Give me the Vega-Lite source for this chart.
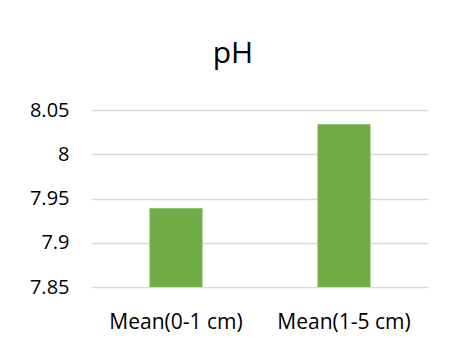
{
  "$schema": "https://vega.github.io/schema/vega-lite/v6.json",
  "width": 336,
  "height": 177,
  "autosize": {"type": "none"},
  "padding": {"left": 92, "top": 110, "right": 28, "bottom": 55},
  "background": "white",
  "title": {
    "text": "pH",
    "fontSize": 30,
    "font": "Open Sans",
    "fontWeight": "normal",
    "color": "#000000",
    "anchor": "middle",
    "dx": -27,
    "offset": 31
  },
  "data": {
    "values": [
      {"category": "Mean(0-1 cm)", "pH": 7.939},
      {"category": "Mean(1-5 cm)", "pH": 8.034}
    ]
  },
  "mark": {"type": "bar", "color": "#70AD47", "clip": true},
  "encoding": {
    "x": {
      "field": "category",
      "type": "nominal",
      "sort": null,
      "scale": {"paddingInner": 0.685, "paddingOuter": 0.3425},
      "axis": {
        "title": null,
        "labelAngle": 0,
        "domain": false,
        "ticks": false,
        "labelFont": "Open Sans",
        "labelFontSize": 21,
        "labelColor": "#000000",
        "labelPadding": 24
      }
    },
    "y": {
      "field": "pH",
      "type": "quantitative",
      "scale": {"domain": [7.85, 8.05], "zero": false, "nice": false},
      "axis": {
        "title": null,
        "values": [7.85, 7.9, 7.95, 8, 8.05],
        "format": "~g",
        "domain": false,
        "ticks": false,
        "labelFont": "Open Sans",
        "labelFontSize": 20,
        "labelColor": "#000000",
        "labelPadding": 23,
        "gridColor": "#d9d9d9",
        "gridWidth": 1.5
      }
    }
  },
  "config": {"view": {"stroke": null}}
}
